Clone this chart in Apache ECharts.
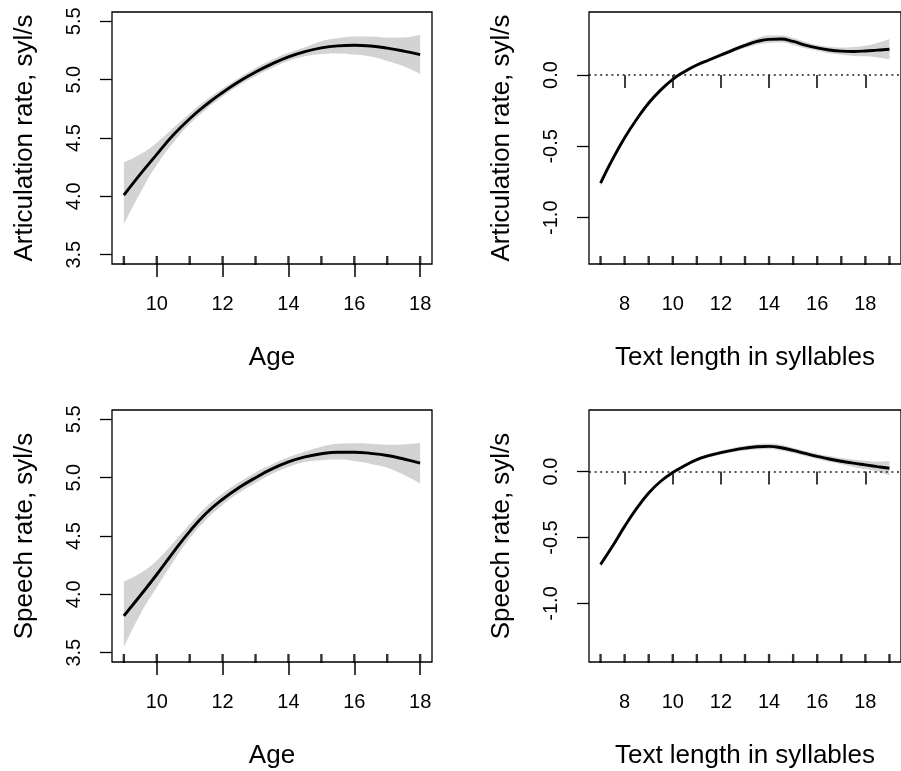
<!DOCTYPE html>
<html>
<head>
<meta charset="utf-8">
<script src="https://cdn.jsdelivr.net/npm/echarts@6/dist/echarts.min.js"></script>
<style>
html,body{margin:0;padding:0;background:#fff;}
#chart{width:901px;height:771px;}
</style>
</head>
<body>
<div id="chart"></div>
<script>
// ---- Data ----
const ageX = [9, 9.5, 10, 10.5, 11, 11.5, 12, 12.5, 13, 13.5, 14, 14.5, 15, 15.5, 16, 16.5, 17, 17.5, 18];
const lenX = [7, 7.5, 8, 8.5, 9, 9.5, 10, 10.5, 11, 11.5, 12, 12.5, 13, 13.5, 14, 14.5, 15, 15.5, 16, 16.5, 17, 17.5, 18, 18.5, 19];

// Articulation rate vs Age
const artAgeFit   = [4.01, 4.19, 4.36, 4.525, 4.665, 4.785, 4.89, 4.985, 5.065, 5.135, 5.195, 5.24, 5.272, 5.29, 5.295, 5.288, 5.27, 5.245, 5.215];
const artAgeUpper = [4.29, 4.36, 4.46, 4.585, 4.71, 4.825, 4.925, 5.015, 5.1, 5.17, 5.23, 5.278, 5.33, 5.355, 5.37, 5.37, 5.362, 5.362, 5.385];
const artAgeLower = [3.76, 4.03, 4.27, 4.46, 4.62, 4.745, 4.855, 4.952, 5.03, 5.1, 5.16, 5.2, 5.22, 5.225, 5.215, 5.198, 5.16, 5.115, 5.05];

// Speech rate vs Age
const spAgeFit   = [3.815, 3.99, 4.17, 4.36, 4.54, 4.695, 4.815, 4.915, 5.0, 5.075, 5.135, 5.178, 5.205, 5.218, 5.218, 5.208, 5.19, 5.16, 5.125];
const spAgeUpper = [4.11, 4.18, 4.29, 4.44, 4.6, 4.75, 4.865, 4.96, 5.045, 5.115, 5.175, 5.222, 5.265, 5.29, 5.295, 5.29, 5.282, 5.285, 5.3];
const spAgeLower = [3.55, 3.83, 4.06, 4.28, 4.48, 4.64, 4.765, 4.87, 4.955, 5.032, 5.092, 5.135, 5.15, 5.155, 5.142, 5.118, 5.085, 5.025, 4.95];

// Articulation rate vs Text length
const artLenFit   = [-0.757, -0.59, -0.44, -0.31, -0.196, -0.105, -0.03, 0.025, 0.07, 0.105, 0.14, 0.175, 0.207, 0.235, 0.25, 0.252, 0.235, 0.21, 0.19, 0.175, 0.167, 0.165, 0.168, 0.174, 0.18];
const artLenUpper = [-0.73, -0.57, -0.425, -0.298, -0.184, -0.093, -0.018, 0.037, 0.082, 0.118, 0.154, 0.19, 0.225, 0.258, 0.276, 0.277, 0.26, 0.233, 0.21, 0.198, 0.192, 0.196, 0.205, 0.225, 0.25];
const artLenLower = [-0.784, -0.61, -0.455, -0.322, -0.208, -0.117, -0.042, 0.013, 0.058, 0.092, 0.126, 0.16, 0.189, 0.212, 0.224, 0.227, 0.21, 0.187, 0.17, 0.152, 0.142, 0.134, 0.131, 0.123, 0.11];

// Speech rate vs Text length
const spLenFit   = [-0.705, -0.565, -0.416, -0.28, -0.163, -0.074, -0.008, 0.045, 0.09, 0.12, 0.143, 0.162, 0.177, 0.187, 0.19, 0.18, 0.16, 0.137, 0.115, 0.095, 0.078, 0.063, 0.05, 0.037, 0.025];
const spLenUpper = [-0.685, -0.55, -0.402, -0.268, -0.151, -0.062, 0.004, 0.057, 0.102, 0.133, 0.157, 0.178, 0.195, 0.207, 0.212, 0.202, 0.18, 0.156, 0.135, 0.117, 0.102, 0.091, 0.082, 0.075, 0.08];
const spLenLower = [-0.725, -0.58, -0.43, -0.292, -0.175, -0.086, -0.02, 0.033, 0.078, 0.107, 0.129, 0.146, 0.159, 0.167, 0.168, 0.158, 0.14, 0.118, 0.095, 0.073, 0.054, 0.035, 0.018, 0.0, -0.03];

// Rug (observed values) and tick labels
const rugAge = [9, 10, 11, 12, 13, 14, 15, 16, 17, 18];
const rugLen = [7, 8, 9, 10, 11, 12, 13, 14, 15, 16, 17, 18, 19];
const ageTicks = [10, 12, 14, 16, 18];
const lenTicks = [8, 10, 12, 14, 16, 18];
const rateTicks = [3.5, 4.0, 4.5, 5.0, 5.5];
const effTicks = [-1.0, -0.5, 0.0];

const xNameAge = 'Age';
const xNameLen = 'Text length in syllables';
const yNameArt = 'Articulation rate, syl/s';
const yNameSp = 'Speech rate, syl/s';

// ---- Layout ----
const FONT = 'Liberation Sans, Arial, Helvetica, sans-serif';
const panels = [
  { grid: {left: 112, top: 12, width: 320, height: 252}, x: ageX, fit: artAgeFit, up: artAgeUpper, lo: artAgeLower,
    xr: [8.64, 18.36], yr: [3.42, 5.58], xt: ageTicks, yt: rateTicks, rug: rugAge, xn: xNameAge, yn: yNameArt, zero: false },
  { grid: {left: 589, top: 12, width: 318, height: 252}, x: lenX, fit: artLenFit, up: artLenUpper, lo: artLenLower,
    xr: [6.52, 19.48], yr: [-1.3245, 0.4415], xt: lenTicks, yt: effTicks, rug: rugLen, xn: xNameLen, yn: yNameArt, zero: true },
  { grid: {left: 112, top: 410, width: 320, height: 252}, x: ageX, fit: spAgeFit, up: spAgeUpper, lo: spAgeLower,
    xr: [8.64, 18.36], yr: [3.42, 5.58], xt: ageTicks, yt: rateTicks, rug: rugAge, xn: xNameAge, yn: yNameSp, zero: false },
  { grid: {left: 589, top: 410, width: 318, height: 252}, x: lenX, fit: spLenFit, up: spLenUpper, lo: spLenLower,
    xr: [6.52, 19.48], yr: [-1.4435, 0.466], xt: lenTicks, yt: effTicks, rug: rugLen, xn: xNameLen, yn: yNameSp, zero: true }
];

const grids = [], xAxes = [], yAxes = [], series = [];
const SMOOTH = 0.45;

panels.forEach((p, i) => {
  grids.push(Object.assign({ show: true, borderColor: '#000', borderWidth: 1.3, backgroundColor: 'transparent', containLabel: false }, p.grid));
  xAxes.push({
    type: 'value', gridIndex: i, min: p.xr[0], max: p.xr[1], position: 'bottom',
    axisLine: { show: false },
    splitLine: { show: false },
    axisTick: { show: true, length: 13, inside: false, customValues: p.xt, lineStyle: { color: '#000', width: 1.5 } },
    axisLabel: { show: true, customValues: p.xt, margin: 30, fontSize: 20, color: '#000', fontFamily: FONT,
      formatter: v => String(v) },
    name: p.xn, nameLocation: 'middle', nameGap: 81,
    nameTextStyle: { fontSize: 26, color: '#000', fontFamily: FONT }
  });
  yAxes.push({
    type: 'value', gridIndex: i, min: p.yr[0], max: p.yr[1], position: 'left',
    axisLine: { show: false },
    splitLine: { show: false },
    axisTick: { show: true, length: 12, customValues: p.yt, lineStyle: { color: '#000', width: 1.3 } },
    axisLabel: { show: true, customValues: p.yt, rotate: 90, margin: 28, fontSize: 20, color: '#000', fontFamily: FONT,
      formatter: v => Number(v).toFixed(1) },
    name: p.yn, nameLocation: 'middle', nameRotate: 90, nameGap: 74,
    nameTextStyle: { fontSize: 26, color: '#000', fontFamily: FONT }
  });

  // confidence band: lower bound (invisible) + band width stacked on it; y is put first so it is the stacked dimension
  series.push({
    type: 'line', xAxisIndex: i, yAxisIndex: i, stack: 'band' + i, stackStrategy: 'all',
    symbol: 'none', smooth: SMOOTH, silent: true,
    encode: { x: 1, y: 0 }, z: 1,
    lineStyle: { opacity: 0 },
    data: p.x.map((v, k) => [p.lo[k], v])
  });
  series.push({
    type: 'line', xAxisIndex: i, yAxisIndex: i, stack: 'band' + i, stackStrategy: 'all',
    symbol: 'none', smooth: SMOOTH, silent: true,
    encode: { x: 1, y: 0 }, z: 1,
    lineStyle: { opacity: 0 },
    areaStyle: { color: '#d3d3d3', opacity: 1 },
    data: p.x.map((v, k) => [p.up[k] - p.lo[k], v])
  });
  const fitSeries = {
    type: 'line', xAxisIndex: i, yAxisIndex: i, symbol: 'none', smooth: SMOOTH, silent: true, z: 5,
    lineStyle: { color: '#000', width: 2.9 },
    data: p.x.map((v, k) => [v, p.fit[k]])
  };
  if (p.zero) {
    fitSeries.markLine = {
      silent: true, symbol: ['none', 'none'], label: { show: false },
      lineStyle: { color: '#222', width: 1.6, type: [2, 3.6] },
      data: [{ yAxis: 0 }]
    };
  }
  series.push(fitSeries);
  // rug of observed values along the bottom edge
  series.push({
    type: 'scatter', xAxisIndex: i, yAxisIndex: i, silent: true, z: 6,
    symbol: 'rect', symbolSize: [2.4, 9], symbolOffset: [0, -3.5],
    itemStyle: { color: '#000' },
    data: p.rug.map(v => [v, p.yr[0]])
  });
});

const chart = echarts.init(document.getElementById('chart'), null, { renderer: 'canvas' });
chart.setOption({
  animation: false,
  backgroundColor: '#fff',
  grid: grids,
  xAxis: xAxes,
  yAxis: yAxes,
  series: series
});
</script>
</body>
</html>
